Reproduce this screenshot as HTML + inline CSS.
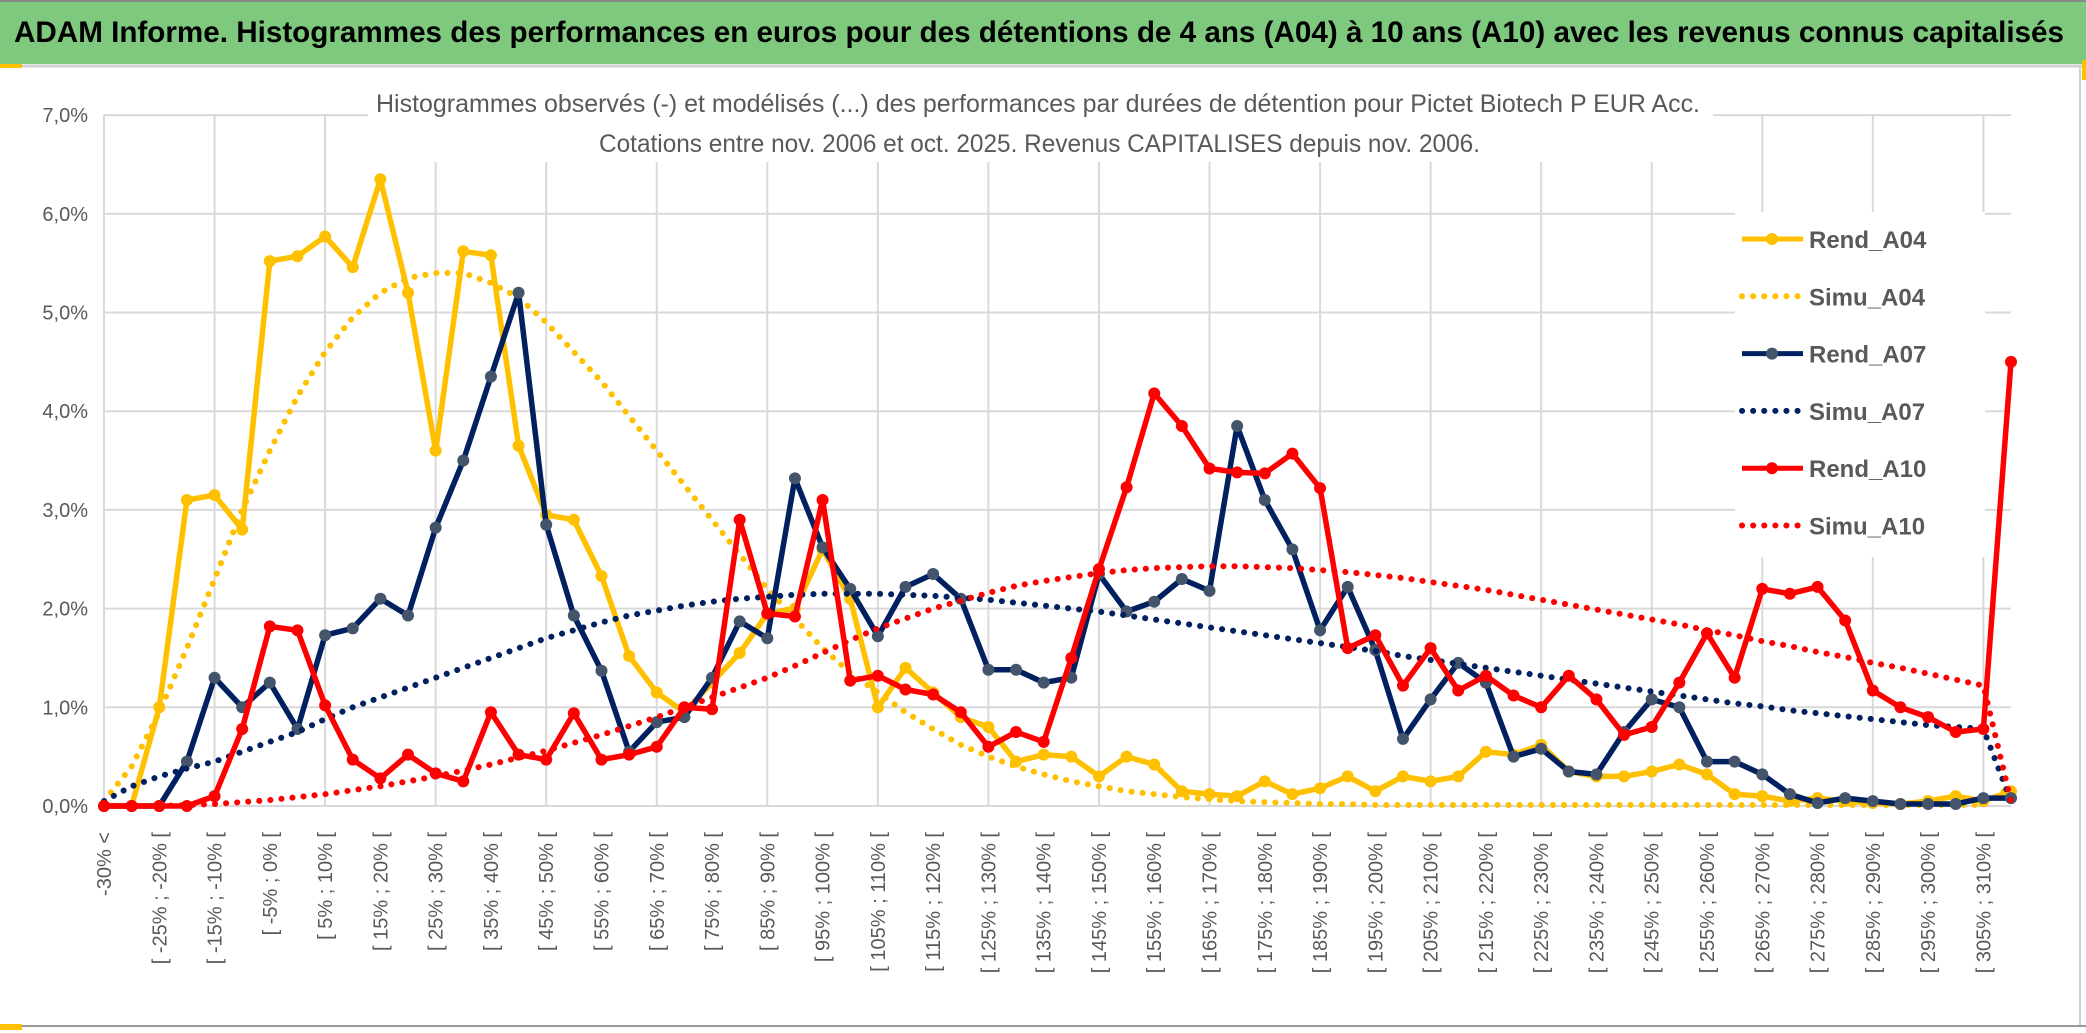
<!DOCTYPE html>
<html><head><meta charset="utf-8"><style>
html,body{margin:0;padding:0;background:#fff;}
svg{display:block;font-family:"Liberation Sans",sans-serif;}
</style></head><body>
<svg id="chart" width="2086" height="1033" viewBox="0 0 2086 1033" xmlns="http://www.w3.org/2000/svg">
<rect x="0" y="0" width="2086" height="1033" fill="#fff"/>
<rect x="0" y="0" width="2086" height="64" fill="#7FC97F"/>
<line x1="0" y1="1" x2="2086" y2="1" stroke="#888" stroke-width="2"/>
<line x1="0" y1="66" x2="2086" y2="66" stroke="#d0d0d0" stroke-width="3"/>
<rect x="0" y="64" width="22" height="4" fill="#FFC000"/>
<text x="14" y="42" font-size="30" font-weight="bold" fill="#000" textLength="2050" lengthAdjust="spacingAndGlyphs">ADAM Informe. Histogrammes des performances en euros pour des détentions de 4 ans (A04) à 10 ans (A10) avec les revenus connus capitalisés</text>
<g id="grid"></g>
<rect x="368" y="80" width="1345" height="82" fill="#fff"/>
<text x="376" y="112" font-size="25" fill="#595959" textLength="1324" lengthAdjust="spacingAndGlyphs">Histogrammes observés (-) et modélisés (...) des performances par durées de détention pour Pictet Biotech P EUR Acc.</text>
<text x="599" y="152" font-size="25" fill="#595959" textLength="881" lengthAdjust="spacingAndGlyphs">Cotations entre nov. 2006 et oct. 2025. Revenus CAPITALISES depuis nov. 2006.</text>
<g id="axes"></g>
<g id="series"></g>
<g id="legend"></g>
<line x1="2080" y1="66" x2="2080" y2="1025" stroke="#d0d0d0" stroke-width="2"/>
<line x1="0" y1="1026" x2="2086" y2="1026" stroke="#999" stroke-width="2"/>
<rect x="0" y="1024" width="22" height="6" fill="#FFC000"/>
<rect x="2082" y="60" width="4" height="20" fill="#FFC000"/>
</svg>
<script>
const yTicks = [0,1,2,3,4,5,6,7];
const rendA04 = [0,0,1.0,3.1,3.15,2.8,5.52,5.57,5.77,5.46,6.35,5.2,3.6,5.62,5.58,3.65,2.95,2.9,2.33,1.52,1.15,0.95,1.25,1.55,1.95,2.0,2.6,2.1,1.0,1.4,1.15,0.9,0.8,0.45,0.52,0.5,0.3,0.5,0.42,0.15,0.12,0.1,0.25,0.12,0.18,0.3,0.15,0.3,0.25,0.3,0.55,0.52,0.62,0.35,0.3,0.3,0.35,0.42,0.32,0.12,0.1,0.05,0.08,0.05,0.03,0.02,0.05,0.1,0.05,0.15];
const simuA04 = [0.05,0.4,0.95,1.6,2.3,3.0,3.6,4.15,4.6,4.95,5.2,5.35,5.4,5.4,5.3,5.15,4.9,4.6,4.3,3.95,3.6,3.25,2.9,2.55,2.2,1.9,1.6,1.35,1.15,0.95,0.78,0.62,0.5,0.4,0.32,0.25,0.2,0.15,0.12,0.09,0.07,0.05,0.04,0.03,0.02,0.02,0.01,0.01,0.01,0.01,0.01,0.01,0.01,0.01,0.01,0.01,0.01,0.01,0.01,0.01,0.01,0.01,0.01,0.01,0.01,0.01,0.01,0.01,0.01,0.2];
const rendA07 = [0,0,0,0.45,1.3,1.0,1.25,0.78,1.73,1.8,2.1,1.93,2.82,3.5,4.35,5.2,2.85,1.93,1.37,0.55,0.85,0.9,1.3,1.87,1.7,3.32,2.62,2.2,1.72,2.22,2.35,2.1,1.38,1.38,1.25,1.3,2.35,1.97,2.07,2.3,2.18,3.85,3.1,2.6,1.78,2.22,1.58,0.68,1.08,1.45,1.25,0.5,0.58,0.35,0.32,0.75,1.08,1.0,0.45,0.45,0.32,0.12,0.03,0.08,0.05,0.02,0.02,0.02,0.08,0.08];
const simuA07 = [0.05,0.2,0.3,0.38,0.45,0.55,0.65,0.75,0.88,1.0,1.1,1.2,1.3,1.4,1.5,1.6,1.7,1.78,1.86,1.93,1.98,2.03,2.07,2.1,2.12,2.14,2.15,2.15,2.15,2.14,2.13,2.11,2.09,2.06,2.03,2.0,1.97,1.93,1.89,1.85,1.81,1.77,1.73,1.69,1.65,1.61,1.57,1.52,1.48,1.44,1.4,1.36,1.32,1.28,1.24,1.2,1.16,1.12,1.08,1.04,1.01,0.97,0.94,0.91,0.88,0.85,0.82,0.8,0.78,0.05];
const rendA10 = [0,0,0,0,0.1,0.78,1.82,1.78,1.02,0.47,0.28,0.52,0.33,0.25,0.95,0.52,0.47,0.94,0.47,0.52,0.6,1.0,0.98,2.9,1.95,1.92,3.1,1.27,1.32,1.18,1.13,0.95,0.6,0.75,0.65,1.5,2.4,3.23,4.18,3.85,3.42,3.38,3.37,3.57,3.22,1.6,1.73,1.22,1.6,1.17,1.32,1.12,1.0,1.32,1.08,0.72,0.8,1.25,1.75,1.3,2.2,2.15,2.22,1.88,1.17,1.0,0.9,0.75,0.78,4.5];
const simuA10 = [0,0,0,0.01,0.02,0.04,0.06,0.09,0.12,0.16,0.2,0.25,0.3,0.36,0.42,0.49,0.56,0.64,0.72,0.81,0.9,1.0,1.1,1.2,1.3,1.42,1.55,1.68,1.8,1.9,2.0,2.08,2.16,2.23,2.28,2.32,2.36,2.39,2.41,2.42,2.43,2.43,2.42,2.41,2.39,2.37,2.34,2.31,2.27,2.23,2.19,2.14,2.09,2.04,1.99,1.94,1.89,1.84,1.78,1.73,1.67,1.62,1.56,1.51,1.45,1.4,1.34,1.28,1.22,0.05];
const categories = ["-30% <"];
for (let k = 1; k < 69; k++) { categories.push("[ " + (-35 + 5*k) + "% ; " + (-30 + 5*k) + "% ["); }
categories.push("310% <");
const legendLabels = ["Rend_A04","Simu_A04","Rend_A07","Simu_A07","Rend_A10","Simu_A10"];

const NS = "http://www.w3.org/2000/svg";
const X0 = 104, X1 = 2011, Y0 = 806, YPER = 98.7;
function xPos(i){ return X0 + i * (X1 - X0) / (categories.length - 1); }
function yPos(v){ return Y0 - v * YPER; }
function mk(tag, attrs, parent){ const e = document.createElementNS(NS, tag); for (const k in attrs) e.setAttribute(k, attrs[k]); parent.appendChild(e); return e; }

const grid = document.getElementById('grid');
const axes = document.getElementById('axes');
yTicks.forEach(t => {
  const l = mk('line', {x1: X0, x2: X1, y1: yPos(t), y2: yPos(t), stroke: '#d9d9d9', 'stroke-width': 2}, grid);
  
  
  const tx = mk('text', {x: 88, y: yPos(t) + 7, 'font-size': 20, fill: '#595959', 'text-anchor': 'end'}, axes);
  tx.textContent = t.toFixed(1).replace('.', ',') + '%';
  
  
});
for (let i = 0; i < categories.length; i += 4) {
  const l = mk('line', {x1: xPos(i), x2: xPos(i), y1: yPos(7), y2: Y0, stroke: '#d9d9d9', 'stroke-width': 2}, grid);
  
  
}
for (let i = 0; i < categories.length; i += 2) {
  const x = xPos(i) + 7, y = 832;
  const tx = mk('text', {x: x, y: y, 'font-size': 20, fill: '#595959', 'text-anchor': 'end', transform: 'rotate(-90 ' + x + ' ' + y + ')'}, axes);
  tx.textContent = categories[i];
  
  
}

const seriesG = document.getElementById('series');
const defs = [
  {data: rendA04, color: '#FFC000', marker: '#FFC000', dotted: false, name: 'rend-a04'},
  {data: simuA04, color: '#FFC000', dotted: true, name: 'simu-a04'},
  {data: rendA07, color: '#002060', marker: '#44546A', dotted: false, name: 'rend-a07'},
  {data: simuA07, color: '#002060', dotted: true, name: 'simu-a07'},
  {data: rendA10, color: '#FF0000', marker: '#FF0000', dotted: false, name: 'rend-a10'},
  {data: simuA10, color: '#FF0000', dotted: true, name: 'simu-a10'}
];
defs.forEach(s => {
  const g = mk('g', {}, seriesG);
  
  
  const pts = s.data.map((v, i) => xPos(i).toFixed(1) + ',' + yPos(v).toFixed(1)).join(' ');
  const attrs = {points: pts, fill: 'none', stroke: s.color, 'stroke-linejoin': 'round'};
  if (s.dotted) { attrs['stroke-width'] = 6; attrs['stroke-dasharray'] = '0.1 11'; attrs['stroke-linecap'] = 'round'; }
  else { attrs['stroke-width'] = 5.5; }
  const pl = mk('polyline', attrs, g);
  
  
  if (!s.dotted) {
    s.data.forEach((v, i) => {
      const c = mk('circle', {cx: xPos(i), cy: yPos(v), r: 6, fill: s.marker}, g);
      
      
    });
  }
});

const lg = document.getElementById('legend');
const box = mk('rect', {x: 1735, y: 212, width: 250, height: 345, fill: '#fff'}, lg);


legendLabels.forEach((lab, k) => {
  const s = defs[k];
  const y = 239 + k * 57.3;
  const g = mk('g', {}, lg);
  
  
  const a = {x1: 1742, x2: 1803, y1: y, y2: y, stroke: s.color};
  if (s.dotted) { a['stroke-width'] = 6; a['stroke-dasharray'] = '0.1 11'; a['stroke-linecap'] = 'round'; }
  else { a['stroke-width'] = 5; }
  const ln = mk('line', a, g);
  
  
  if (!s.dotted) {
    const c = mk('circle', {cx: 1772, cy: y, r: 6, fill: s.marker}, g);
    
    
  }
  const t = mk('text', {x: 1809, y: y + 9, 'font-size': 24, 'font-weight': 'bold', fill: '#595959'}, g);
  t.textContent = lab;
  
  
});
</script>
</body></html>
